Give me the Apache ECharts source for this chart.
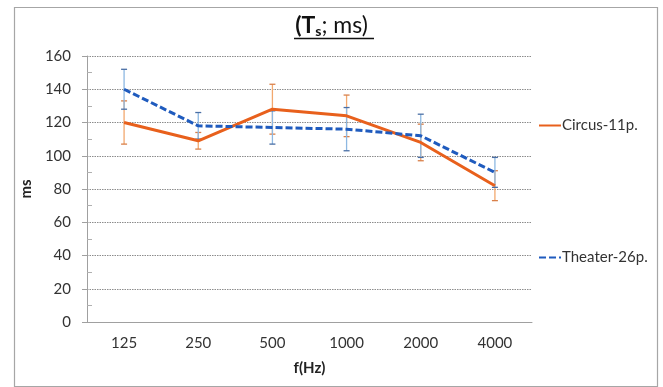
<!DOCTYPE html>
<html>
<head>
<meta charset="utf-8">
<script src="https://cdn.jsdelivr.net/npm/echarts@6/dist/echarts.min.js"></script>
<style>
html,body{margin:0;padding:0;background:#fff;}
#c{width:663px;height:387px;}
</style>
</head>
<body>
<div id="c"></div>
<script>
const categories = ['125', '250', '500', '1000', '2000', '4000'];
const circusVals = [120, 109, 128, 124, 108, 82];
const circusErr = [13, 5, 15, 12.5, 11, 9];
const theaterVals = [140, 118, 117, 116, 112, 90];
const theaterErr = [12, 8, 10, 13, 13, 9];
const yTicks = [0, 20, 40, 60, 80, 100, 120, 140, 160];

const FONT = 'Lato, "Open Sans", sans-serif';
const chart = echarts.init(document.getElementById('c'), null, {renderer: 'canvas'});

function errData(vals, errs) {
  return vals.map((v, i) => [i, v - errs[i], v + errs[i]]);
}
function errRender(barColor, capColor) {
  return function (params, api) {
    const x = api.value(0);
    const lo = api.coord([x, api.value(1)]);
    const hi = api.coord([x, api.value(2)]);
    const hw = 3;
    return {
      type: 'group',
      children: [
        {type: 'line', shape: {x1: lo[0], y1: lo[1], x2: hi[0], y2: hi[1]}, style: {stroke: barColor, lineWidth: 1.3}},
        {type: 'line', shape: {x1: lo[0] - hw, y1: lo[1], x2: lo[0] + hw, y2: lo[1]}, style: {stroke: capColor, lineWidth: 1.3}},
        {type: 'line', shape: {x1: hi[0] - hw, y1: hi[1], x2: hi[0] + hw, y2: hi[1]}, style: {stroke: capColor, lineWidth: 1.3}}
      ]
    };
  };
}

const ORANGE = '#E8601C';
const BLUE = '#1F5BBE';

const legendCommon = {
  orient: 'vertical',
  itemWidth: 22, itemHeight: 14, itemGap: 0,
  itemStyle: {opacity: 0},
  textStyle: {fontFamily: FONT, fontSize: 15, color: '#333', padding: [0, 0, 0, -4]}
};

chart.setOption({
  backgroundColor: '#fff',
  animation: false,
  title: {
    text: '{a|(T}{s|s}{b|; ms)}',
    left: 'center',
    top: 8,
    textStyle: {
      rich: {
        a: {fontFamily: FONT, fontSize: 23, fontWeight: 'bold', color: '#111'},
        s: {fontFamily: FONT, fontSize: 14, fontWeight: 'bold', color: '#111', padding: [11, 0, 0, 0]},
        b: {fontFamily: FONT, fontSize: 23, fontWeight: 'normal', color: '#111'}
      }
    }
  },
  graphic: [
    {type: 'rect', left: 12, top: 5, shape: {width: 643, height: 379}, style: {fill: 'none', stroke: '#A6A6A6', lineWidth: 1.2}, silent: true},
    {type: 'line', shape: {x1: 294, y1: 38.5, x2: 374, y2: 38.5}, style: {stroke: '#111', lineWidth: 1.4}, silent: true}
  ],
  legend: [
    Object.assign({data: ['Circus-11p.'], left: 533, top: 113}, legendCommon),
    Object.assign({data: ['Theater-26p.'], left: 533, top: 245}, legendCommon)
  ],
  grid: {left: 87, right: 131, top: 56, bottom: 65, containLabel: false},
  xAxis: {
    type: 'category',
    data: categories,
    boundaryGap: true,
    name: 'f(Hz)',
    nameLocation: 'middle',
    nameGap: 39,
    nameTextStyle: {fontFamily: FONT, fontSize: 15, fontWeight: 'bold', color: '#222'},
    axisLine: {lineStyle: {color: '#A0A0A0', width: 1}},
    axisTick: {alignWithLabel: true, length: 5, inside: true, lineStyle: {color: '#A0A0A0'}},
    axisLabel: {fontFamily: FONT, fontSize: 15, color: '#333', margin: 14},
    splitLine: {show: false}
  },
  yAxis: [
    {
      type: 'value',
      min: yTicks[0],
      max: yTicks[yTicks.length - 1],
      interval: yTicks[1] - yTicks[0],
      name: 'ms',
      nameLocation: 'middle',
      nameRotate: 90,
      nameGap: 45,
      nameTextStyle: {fontFamily: FONT, fontSize: 15, fontWeight: 'bold', color: '#222'},
      axisLine: {show: true, lineStyle: {color: '#A0A0A0', width: 1}},
      axisTick: {show: true, length: 5, lineStyle: {color: '#A0A0A0'}},
      axisLabel: {fontFamily: FONT, fontSize: 15, color: '#333', margin: 16},
      splitLine: {show: true, lineStyle: {color: '#8C8C8C', type: [1.5, 1], width: 1}}
    },
    {
      type: 'value',
      min: yTicks[0],
      max: yTicks[yTicks.length - 1],
      interval: yTicks[1] - yTicks[0],
      position: 'left',
      axisLine: {show: false},
      axisTick: {show: false, inside: true},
      minorTick: {show: true, splitNumber: 2, length: 5, lineStyle: {color: '#B0B0B0'}},
      axisLabel: {show: false},
      splitLine: {show: false}
    }
  ],
  series: [
    {
      name: 'circusErr', type: 'custom', z: 1,
      data: errData(circusVals, circusErr),
      renderItem: errRender('#F2A86E', '#D9804A'),
      encode: {x: 0, y: [1, 2]},
      silent: true
    },
    {
      name: 'theaterErr', type: 'custom', z: 1,
      data: errData(theaterVals, theaterErr),
      renderItem: errRender('#8DB8E2', '#4A6FA5'),
      encode: {x: 0, y: [1, 2]},
      silent: true
    },
    {
      name: 'Circus-11p.', type: 'line', z: 3,
      data: circusVals,
      symbol: 'none',
      lineStyle: {color: ORANGE, width: 3},
      itemStyle: {color: ORANGE}
    },
    {
      name: 'Theater-26p.', type: 'line', z: 4,
      data: theaterVals,
      symbol: 'none',
      lineStyle: {color: BLUE, width: 3, type: [7, 3]},
      itemStyle: {color: BLUE}
    }
  ]
});
</script>
</body>
</html>
